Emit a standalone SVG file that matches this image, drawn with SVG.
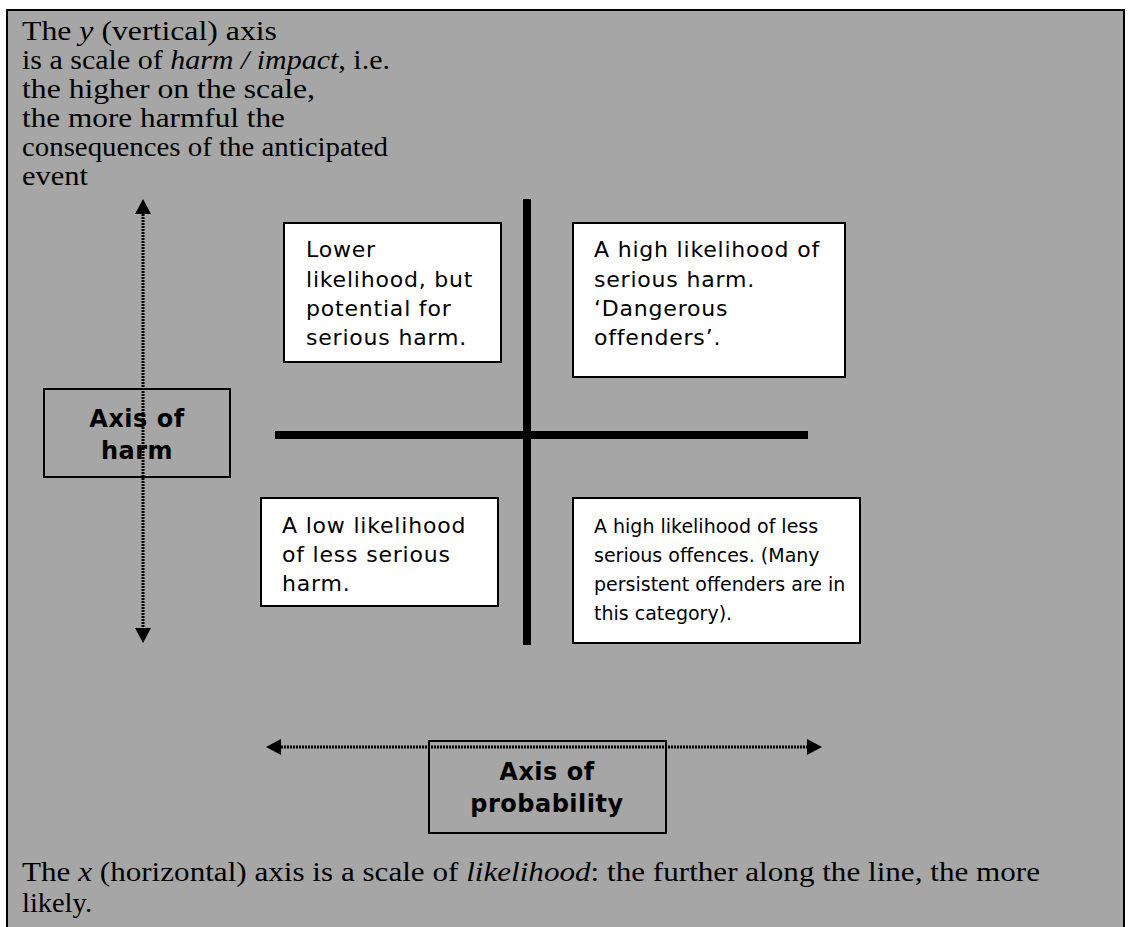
<svg xmlns="http://www.w3.org/2000/svg" width="1131" height="927" viewBox="0 0 1131 927">
<style>
.serif{font-family:"Liberation Serif","Times New Roman",serif;font-size:27px;fill:#000}
.q{font-family:"DejaVu Sans",Verdana,sans-serif;font-size:22px;letter-spacing:0.8px;fill:#000}
.q4{font-family:"DejaVu Sans",Verdana,sans-serif;font-size:19px;fill:#000}
.ax{font-family:"DejaVu Sans",Verdana,sans-serif;font-size:24px;font-weight:bold;letter-spacing:0.5px;fill:#000;text-anchor:middle}
.box{fill:#fff;stroke:#000;stroke-width:2}
.lbl{fill:none;stroke:#000;stroke-width:2}
.thick{stroke:#000;stroke-width:8}
.arr{stroke:#000;stroke-width:3;stroke-dasharray:2 1;fill:none}
</style>
<defs>
<marker id="ah" markerUnits="userSpaceOnUse" markerWidth="16" markerHeight="16" viewBox="0 0 15 16" refX="0" refY="8" orient="auto-start-reverse">
<path d="M0,0 L15,8 L0,16 Z" fill="#000"/>
</marker>
</defs>
<rect x="0" y="0" width="1131" height="927" fill="#fff"/>
<rect x="7" y="10" width="1117" height="930" fill="#A6A6A6" stroke="#000" stroke-width="2"/>
<g id="top-text" class="serif">
<text x="22" y="40" textLength="255" lengthAdjust="spacingAndGlyphs">The <tspan font-style="italic">y</tspan> (vertical) axis</text>
<text x="22" y="69" textLength="368" lengthAdjust="spacingAndGlyphs">is a scale of <tspan font-style="italic">harm / impact</tspan>, i.e.</text>
<text x="22" y="98" textLength="293" lengthAdjust="spacingAndGlyphs">the higher on the scale,</text>
<text x="22" y="127" textLength="263" lengthAdjust="spacingAndGlyphs">the more harmful the</text>
<text x="22" y="156" textLength="366" lengthAdjust="spacingAndGlyphs">consequences of the anticipated</text>
<text x="22" y="185" textLength="66" lengthAdjust="spacingAndGlyphs">event</text>
</g>
<g id="connectors">
<line class="thick" x1="527" y1="199" x2="527" y2="645"/>
<line class="thick" x1="275" y1="435" x2="808" y2="435"/>
<line class="arr" x1="143" y1="214" x2="143" y2="628" marker-start="url(#ah)" marker-end="url(#ah)"/>
<line class="arr" x1="281" y1="747" x2="807" y2="747" marker-start="url(#ah)" marker-end="url(#ah)"/>
</g>
<g id="q-top-left">
<rect class="box" x="284" y="223" width="217" height="139"/>
<text class="q" x="306" y="257">Lower</text>
<text class="q" x="306" y="287">likelihood, but</text>
<text class="q" x="306" y="316">potential for</text>
<text class="q" x="306" y="345">serious harm.</text>
</g>
<g id="q-top-right">
<rect class="box" x="573" y="223" width="272" height="154"/>
<text class="q" x="594" y="257">A high likelihood of</text>
<text class="q" x="594" y="287">serious harm.</text>
<text class="q" x="594" y="316">‘Dangerous</text>
<text class="q" x="594" y="345">offenders’.</text>
</g>
<g id="q-bottom-left">
<rect class="box" x="261" y="498" width="237" height="108"/>
<text class="q" x="282" y="533">A low likelihood</text>
<text class="q" x="282" y="562">of less serious</text>
<text class="q" x="282" y="591">harm.</text>
</g>
<g id="q-bottom-right">
<rect class="box" x="573" y="498" width="287" height="145"/>
<text class="q4" x="594" y="533">A high likelihood of less</text>
<text class="q4" x="594" y="562">serious offences. (Many</text>
<text class="q4" x="594" y="591">persistent offenders are in</text>
<text class="q4" x="594" y="620">this category).</text>
</g>
<g id="axis-harm">
<rect class="lbl" x="44" y="389" width="186" height="88"/>
<text class="ax" x="137" y="427">Axis of</text>
<text class="ax" x="137" y="459">harm</text>
</g>
<g id="axis-probability">
<rect class="lbl" x="429" y="741" width="237" height="92"/>
<text class="ax" x="547" y="780">Axis of</text>
<text class="ax" x="547" y="812">probability</text>
</g>
<g id="bottom-text" class="serif">
<text x="22" y="881" textLength="1018" lengthAdjust="spacingAndGlyphs">The <tspan font-style="italic">x</tspan> (horizontal) axis is a scale of <tspan font-style="italic">likelihood</tspan>:  the further along the line, the more</text>
<text x="22" y="912" textLength="70" lengthAdjust="spacingAndGlyphs">likely.</text>
</g>
</svg>
